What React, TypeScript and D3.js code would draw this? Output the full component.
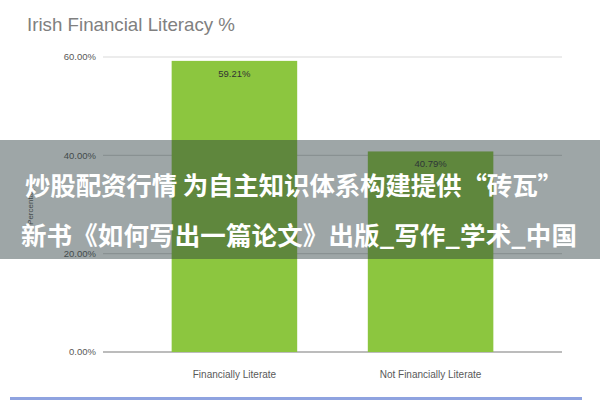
import React from "react";
import * as d3 from "d3";

const title = "Irish Financial Literacy %";
const categories = ["Financially Literate", "Not Financially Literate"];
const values = [59.21, 40.79];
const yTicks = [0, 20, 40, 60];
const yAxisTitle = "Percentage";
const bannerLines = [
  "炒股配资行情 为自主知识体系构建提供“砖瓦”",
  "新书《如何写出一篇论文》出版_写作_学术_中国",
];

const W = 600;
const H = 400;

export default function App() {
  const x = d3
    .scaleBand<string>()
    .domain(categories)
    .range([103, 562])
    .paddingInner(0.36)
    .paddingOuter(0.35);
  const y = d3.scaleLinear().domain([0, 60]).range([352, 57]);
  const fmt = (v: number) => v.toFixed(2) + "%";
  const font = "'Liberation Sans', Arial, sans-serif";
  const cjk = "'Noto Sans CJK SC', sans-serif";

  return (
    <svg
      width={W}
      height={H}
      style={{ position: "fixed", left: 0, top: 0, background: "#fff" }}
      fontFamily={font}
    >
      <rect x={0} y={0} width={W} height={H} fill="#fff" />
      <text x={27} y={31} fontSize={18.5} fill="#808080" textLength={208} lengthAdjust="spacingAndGlyphs">
        {title}
      </text>
      {yTicks.map((t) => (
        <g key={t}>
          <line
            x1={103}
            x2={562}
            y1={y(t)}
            y2={y(t)}
            stroke={t === 0 ? "#a6a6a6" : "#d9d9d9"}
            strokeWidth={t === 0 ? 1.5 : 1.2}
          />
          <text
            x={96}
            y={y(t)}
            dy="0.35em"
            textAnchor="end"
            fontSize={9.5}
            fill="#595959"
          >
            {fmt(t)}
          </text>
        </g>
      ))}
      <text
        transform={`translate(33,${(y(0) + y(60)) / 2}) rotate(-90)`}
        textAnchor="middle"
        fontSize={8}
        fill="#595959"
      >
        {yAxisTitle}
      </text>
      {categories.map((c, i) => (
        <g key={c}>
          <rect
            x={x(c)}
            y={y(values[i])}
            width={x.bandwidth()}
            height={y(0) - y(values[i])}
            fill="#8cc63f"
          />
          <text
            x={(x(c) as number) + x.bandwidth() / 2}
            y={y(values[i]) + 16}
            textAnchor="middle"
            fontSize={9.5}
            fill="#333"
          >
            {fmt(values[i])}
          </text>
          <text
            x={(x(c) as number) + x.bandwidth() / 2}
            y={378}
            textAnchor="middle"
            fontSize={10}
            fill="#595959"
          >
            {c}
          </text>
        </g>
      ))}
      <rect x={0} y={140} width={W} height={119} fill="rgba(40,58,60,0.45)" />
      <text
        x={25}
        y={195}
        fontSize={25.5}
        fontWeight="bold"
        fill="#fff"
        fontFamily={cjk}
        textLength={538}
        lengthAdjust="spacing"
      >
        {bannerLines[0]}
      </text>
      <text
        x={21}
        y={245}
        fontSize={25.5}
        fontWeight="bold"
        fill="#fff"
        fontFamily={cjk}
        textLength={556}
        lengthAdjust="spacing"
      >
        {bannerLines[1]}
      </text>
      <rect x={10} y={397} width={572} height={3} fill="#8fa3e0" />
    </svg>
  );
}
